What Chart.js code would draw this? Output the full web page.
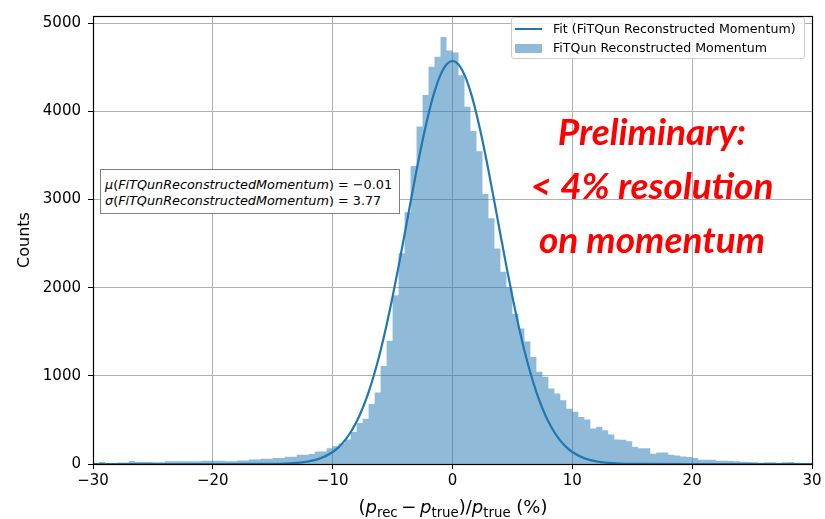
<!DOCTYPE html>
<html><head><meta charset="utf-8">
<script src="https://cdn.jsdelivr.net/npm/chart.js@4"></script>
<style>
html,body{margin:0;padding:0;background:#fff;}
#wrap{position:relative;width:825px;height:519px;overflow:hidden;font-family:'DejaVu Sans',sans-serif;color:#000;}
#c{position:absolute;left:0;top:0;}
.legend{position:absolute;left:511px;top:17px;width:294px;height:42px;border:1px solid #cccccc;border-radius:3px;background:rgba(255,255,255,0.8);box-sizing:border-box;font-size:12.6px;}
.legend .row{position:absolute;left:41px;white-space:nowrap;line-height:1;}
.legend .sw-line{position:absolute;left:3px;top:10px;width:27px;height:2px;background:#1f77b4;}
.legend .sw-box{position:absolute;left:3px;top:26px;width:27px;height:9px;background:rgba(31,119,180,0.5);}
.stats{position:absolute;left:100px;top:169px;width:300px;height:45px;border:1px solid #808080;background:#fff;box-sizing:border-box;font-size:12.8px;}
.stats .l{position:absolute;left:4px;white-space:nowrap;line-height:1;}
.red{position:absolute;color:#ff0000;font-family:'Lato','Open Sans',sans-serif;font-weight:bold;font-style:italic;font-size:37px;white-space:nowrap;transform:translateX(-50%);line-height:1;}
.xt{position:absolute;left:453px;top:498px;transform:translateX(-50%);font-size:18px;white-space:nowrap;line-height:1;}
.xt sub{font-size:74%;vertical-align:-0.3em;line-height:0;}
.xt .op{margin:0 0.2em;}
</style></head>
<body>
<div id="wrap">
<canvas id="c" width="825" height="519"></canvas>
<div class="legend">
  <div class="sw-line"></div><div class="row" style="top:5px">Fit (FiTQun Reconstructed Momentum)</div>
  <div class="sw-box"></div><div class="row" style="top:24px">FiTQun Reconstructed Momentum</div>
</div>
<div class="stats">
  <div class="l" style="top:9px"><i>μ</i>(<i>FiTQunReconstructedMomentum</i>) = −0.01</div>
  <div class="l" style="top:25px"><i>σ</i>(<i>FiTQunReconstructedMomentum</i>) = 3.77</div>
</div>
<div class="red" style="left:652px;top:112px">Preliminary:</div>
<div class="red" style="left:652px;top:166px">&lt; 4% resolution</div>
<div class="red" style="left:652px;top:220px">on momentum</div>
<div class="xt">(<i>p</i><sub>rec</sub><span class="op">−</span><i>p</i><sub>true</sub>)/<i>p</i><sub>true</sub> (%)</div>
</div>
<script>
// Histogram: range and bin width, counts per bin
const histRange = [-30, 30];
const binWidth = 0.5;
const counts = [
  12,22,12,12,18,18,33,22,22,22,
  19,19,30,30,30,30,30,30,37,37,
  37,37,30,30,41,41,52,52,60,60,
  67,67,82,82,104,104,112,142,142,179,
  202,232,277,363,464,512,680,811,1110,1398,
  1914,2390,2856,3379,3828,4183,4505,4617,4841,4690,
  4665,4408,4050,3775,3545,3063,2786,2445,2180,2005,
  1700,1537,1390,1212,1045,990,856,800,724,627,
  593,532,506,403,422,384,335,278,274,257,
  195,179,179,116,130,130,104,97,86,78,
  67,48,48,48,37,37,34,30,26,22,
  19,15,19,19,15,19,22,15,11,11
];
// Fit curve samples
const fitX = [-30,-20,-16,-15,-14,-13,-12,-11,
  -10,-9.5,-9,-8.5,-8,-7.5,-7,-6.5,-6,-5.5,-5,-4.5,-4,-3.5,-3,-2.5,-2,-1.5,-1,-0.5,
  0,
  0.5,1,1.5,2,2.5,3,3.5,4,4.5,5,5.5,6,6.5,7,7.5,8,8.5,9,9.5,10,
  11,12,13,14,15,16,20,30];
const fitY = [0,0,1,2,5,12,29,65,
  136,191,265,360,481,632,815,1034,1288,1577,1897,2241,2603,2970,3330,3668,3970,4222,4412,4530,
  4570,
  4530,4412,4222,3970,3668,3330,2970,2603,2241,1897,1577,1288,1034,815,632,481,360,265,191,136,
  65,29,12,5,2,1,0,0];
const xTicks = [-30,-20,-10,0,10,20,30];
const yTicks = [0,1000,2000,3000,4000,5000];
const yMax = 5080;

// step outline of the histogram: left edge of each bin, plus the closing right edge
const histPoints = counts.map((v,i)=>({x: histRange[0] + binWidth*i, y: v}));
histPoints.push({x: histRange[1], y: counts[counts.length-1]});
const fitPoints = fitX.map((x,i)=>({x: x, y: fitY[i]}));

const frame = {
  id:'frame',
  afterDraw(chart){
    const a = chart.chartArea, ctx = chart.ctx;
    ctx.save();
    ctx.strokeStyle = '#000';
    ctx.lineWidth = 1.2;
    ctx.strokeRect(Math.round(a.left)+0.5, Math.round(a.top)+0.5, Math.round(a.right-a.left), Math.round(a.bottom-a.top));
    ctx.restore();
  }
};

new Chart(document.getElementById('c'), {
  type: 'line',
  data: {
    datasets: [
      { label:'Fit (FiTQun Reconstructed Momentum)', data: fitPoints,
        borderColor:'#1f77b4', borderWidth:2.2, pointRadius:0, fill:false,
        cubicInterpolationMode:'monotone', order:0 },
      { label:'FiTQun Reconstructed Momentum', data: histPoints,
        stepped:'before', fill:'origin', backgroundColor:'rgba(31,119,180,0.5)',
        borderColor:'rgba(0,0,0,0)', borderWidth:1, pointRadius:0, order:1 }
    ]
  },
  options: {
    responsive:false, animation:false,
    layout:{ padding:{ left:0, right:13, top:10, bottom:0 } },
    plugins:{ legend:{display:false}, tooltip:{enabled:false} },
    scales:{
      x:{ type:'linear', min:histRange[0], max:histRange[1], offset:false,
        afterFit(s){ s.height = 55; },
        afterBuildTicks(s){ s.ticks = xTicks.map(v=>({value:v})); },
        ticks:{ font:{family:'DejaVu Sans', size:15}, color:'#000', padding:3,
          callback:(v)=> (v<0 ? '\u2212'+Math.abs(v) : String(v)) },
        grid:{ color:'#b0b0b0', lineWidth:1, offset:false, drawTicks:true, tickLength:5, tickColor:'#000', tickWidth:1 },
        border:{ display:false }
      },
      y:{ type:'linear', min:0, max:yMax,
        afterFit(s){ s.width = 93; },
        afterBuildTicks(s){ s.ticks = yTicks.map(v=>({value:v})); },
        ticks:{ font:{family:'DejaVu Sans', size:15}, color:'#000', padding:7,
          callback:(v)=> String(v) },
        grid:{ color:'#b0b0b0', lineWidth:1, drawTicks:true, tickLength:5, tickColor:'#000', tickWidth:1 },
        border:{ display:false },
        title:{ display:true, text:'Counts', font:{family:'DejaVu Sans', size:16}, color:'#000', padding:{top:15, bottom:0} }
      }
    }
  },
  plugins:[frame]
});
</script>
</body></html>
